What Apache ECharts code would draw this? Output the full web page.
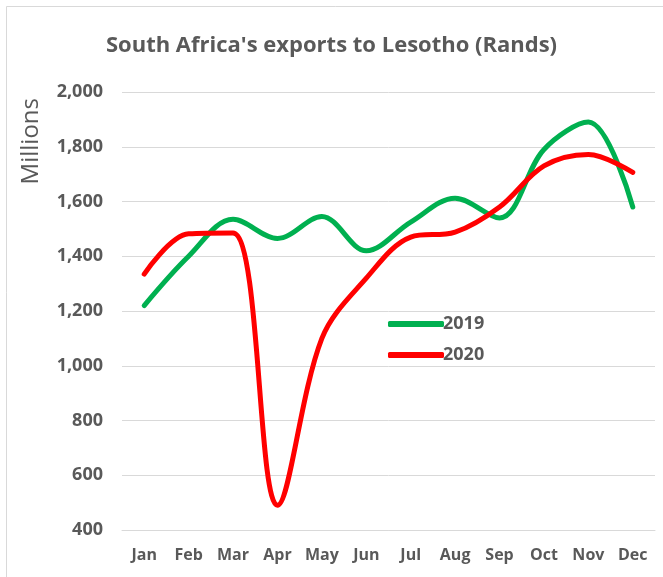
<!DOCTYPE html>
<html><head><meta charset="utf-8">
<script src="https://cdn.jsdelivr.net/npm/echarts@6/dist/echarts.min.js"></script>
<style>html,body{margin:0;padding:0;background:#fff}#c{width:663px;height:577px}</style>
</head><body><div id="c"></div>
<script>
const months = ['Jan','Feb','Mar','Apr','May','Jun','Jul','Aug','Sep','Oct','Nov','Dec'];
const exports2019 = [1220, 1400, 1535, 1465, 1545, 1420, 1525, 1612, 1540, 1790, 1890, 1580];
const exports2020 = [1335, 1482, 1485, 490, 1100, 1320, 1470, 1488, 1580, 1730, 1772, 1706];
const yTicks = [400, 600, 800, 1000, 1200, 1400, 1600, 1800, 2000];

const chart = echarts.init(document.getElementById('c'), null, {renderer:'canvas'});
const gray = '#595959';
const font = '"Open Sans", "Noto Sans", sans-serif';
chart.setOption({
  animation: false,
  backgroundColor: '#fff',
  graphic: [{type:'rect', shape:{x:6.5,y:6.5,width:700,height:700}, style:{fill:'none', stroke:'#d9d9d9', lineWidth:1}, silent:true}],
  title: {text: "South Africa's exports to Lesotho (Rands)", left: 'center', top: 30,
    textStyle: {color: gray, fontSize: 22, fontWeight: 'bold', fontFamily: font}},
  grid: {left: 122, right: 8, top: 92, bottom: 47, containLabel: false},
  legend: {orient: 'vertical', left: 383, top: 310, itemWidth: 56, itemHeight: 6, itemGap: 13,
    icon: 'roundRect',
    textStyle: {color: gray, fontSize: 18, fontWeight: 'bold', fontFamily: font, lineHeight: 18, padding:[0,0,0,-6]},
    data: ['2019','2020']},
  xAxis: {type: 'category', data: months, boundaryGap: true,
    axisLine: {show: true, lineStyle: {color: '#d9d9d9'}}, axisTick: {show: false},
    axisLabel: {color: gray, fontSize: 16, fontWeight: 'bold', fontFamily: font, margin: 17}},
  yAxis: {type: 'value', min: yTicks[0], max: yTicks[yTicks.length-1], interval: 200,
    name: 'Millions', nameLocation: 'end', nameRotate: 90, nameGap: -6,
    nameTextStyle: {color: gray, fontSize: 24, fontFamily: font, align: 'right', verticalAlign: 'bottom', padding: [0, 0, 79, 0]},
    axisLine: {show: false}, axisTick: {show: false},
    splitLine: {lineStyle: {color: '#d9d9d9', width: 1}},
    axisLabel: {color: gray, fontSize: 18, fontWeight: 'bold', fontFamily: font, margin: 19,
      formatter: v => v.toLocaleString('en-US')}},
  series: [
    {name: '2019', type: 'line', data: exports2019, smooth: 0.35, symbol: 'none',
      lineStyle: {color: '#00B050', width: 5, cap: 'round', join: 'round'}, itemStyle: {color: '#00B050'}},
    {name: '2020', type: 'line', data: exports2020, smooth: 0.35, symbol: 'none',
      lineStyle: {color: '#FF0000', width: 5, cap: 'round', join: 'round'}, itemStyle: {color: '#FF0000'}}
  ]
});
</script></body></html>
